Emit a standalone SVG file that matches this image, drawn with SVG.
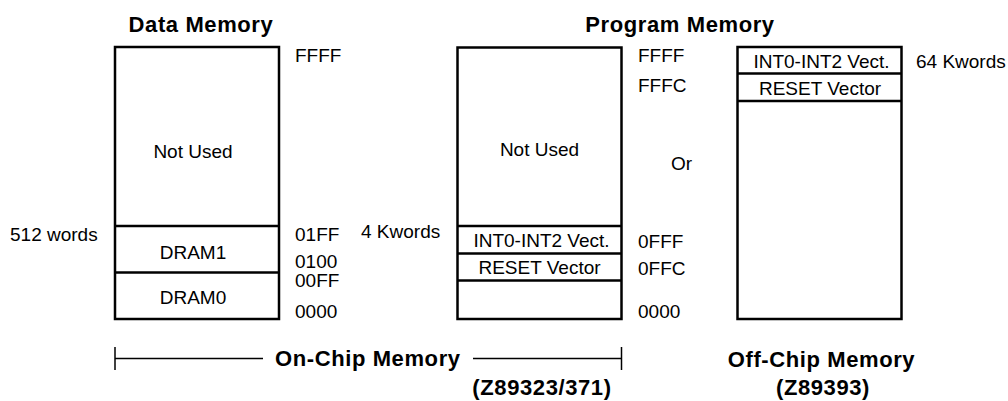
<svg xmlns="http://www.w3.org/2000/svg" width="1008" height="401" viewBox="0 0 1008 401">
<style>
.box{fill:#fff;stroke:#000;stroke-width:2.5}
.ln{stroke:#000;stroke-width:2.5;fill:none}
.br{stroke:#000;stroke-width:1.5;fill:none}
text{font-family:"Liberation Sans",Arial,sans-serif;font-size:19px;fill:#000}
.b{font-weight:bold;font-size:22px;letter-spacing:0.6px}
.m{text-anchor:middle}
</style>
<rect width="1008" height="401" fill="#fff"/>
<g id="titles">
<text class="b m" x="201" y="31.5">Data Memory</text>
<text class="b m" x="680" y="31.5">Program Memory</text>
</g>
<g id="data-memory">
<rect class="box" x="115" y="47" width="164" height="272"/>
<line class="ln" x1="115" y1="226" x2="279" y2="226"/>
<line class="ln" x1="115" y1="272.5" x2="279" y2="272.5"/>
<text class="m" x="193" y="158">Not Used</text>
<text class="m" x="193" y="259">DRAM1</text>
<text class="m" x="193" y="304">DRAM0</text>
<text x="10" y="240.5">512 words</text>
<text x="295" y="61.5">FFFF</text>
<text x="295" y="240.5">01FF</text>
<text x="295" y="268">0100</text>
<text x="295" y="287">00FF</text>
<text x="295" y="318">0000</text>
</g>
<g id="program-memory-onchip">
<rect class="box" x="457.5" y="47.5" width="164" height="271.5"/>
<line class="ln" x1="457.5" y1="226" x2="621.5" y2="226"/>
<line class="ln" x1="457.5" y1="253.5" x2="621.5" y2="253.5"/>
<line class="ln" x1="457.5" y1="280.5" x2="621.5" y2="280.5"/>
<text class="m" x="539.5" y="156">Not Used</text>
<text class="m" x="541.5" y="246.5">INT0-INT2 Vect.</text>
<text class="m" x="539.5" y="274">RESET Vector</text>
<text x="361" y="238">4 Kwords</text>
<text x="638" y="61.5">FFFF</text>
<text x="638" y="91.5">FFFC</text>
<text x="638" y="248">0FFF</text>
<text x="638" y="275">0FFC</text>
<text x="638" y="318">0000</text>
</g>
<g id="or-label">
<text x="671" y="170">Or</text>
</g>
<g id="program-memory-offchip">
<rect class="box" x="737.5" y="47" width="164" height="272"/>
<line class="ln" x1="737.5" y1="73.5" x2="901.5" y2="73.5"/>
<line class="ln" x1="737.5" y1="101" x2="901.5" y2="101"/>
<text class="m" x="821.5" y="68">INT0-INT2 Vect.</text>
<text class="m" x="820" y="95">RESET Vector</text>
<text x="916" y="68">64 Kwords</text>
</g>
<g id="connectors">
<line class="br" x1="115" y1="347" x2="115" y2="370"/>
<line class="br" x1="115" y1="358.5" x2="263" y2="358.5"/>
<line class="br" x1="473" y1="358.5" x2="621.5" y2="358.5"/>
<line class="br" x1="621.5" y1="347" x2="621.5" y2="370"/>
</g>
<g id="labels">
<text class="b" x="275" y="365.5">On-Chip Memory</text>
<text class="b m" x="542" y="395">(Z89323/371)</text>
<text class="b m" x="821.5" y="366.5">Off-Chip Memory</text>
<text class="b m" x="823" y="395">(Z89393)</text>
</g>
</svg>
